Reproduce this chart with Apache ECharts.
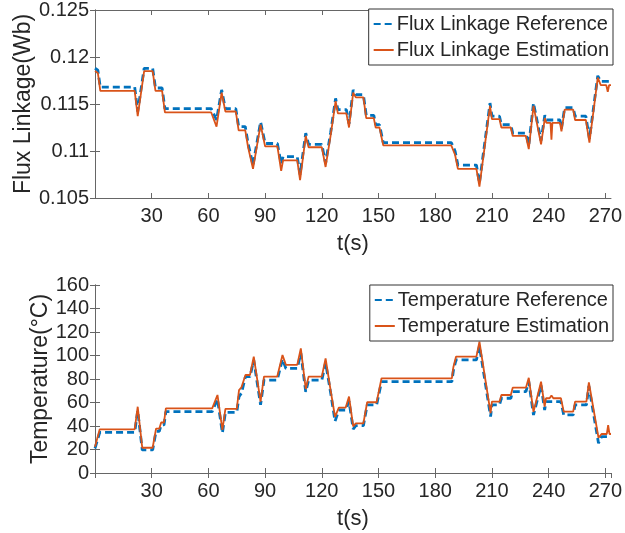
<!DOCTYPE html>
<html>
<head>
<meta charset="utf-8">
<script src="https://cdn.jsdelivr.net/npm/echarts@6/dist/echarts.min.js"></script>
<style>html,body{margin:0;padding:0;background:#fff}#c{width:625px;height:533px}</style>
</head>
<body>
<div id="c"></div>
<script>
// ---- data ----
var fluxRefT = [0,1.5,2.8,21,22.6,26,30.5,32,35.5,37,61.5,64.3,67,69,74.5,76,79.5,81,83.6,87.6,90,96.5,98.5,99.5,107,108.5,111.5,113,120,122,124.7,127.3,128.5,133,134.4,136.6,138,142,143.5,147.5,148.5,150.5,152.5,188.5,190.5,192,201.8,203.4,209,210,214,215,220,221,228,229.5,232,236,238,238.8,246,246.8,248.5,253,254,259.7,261.6,266,267.6,273];
var fluxRefV = [0.1188,0.1186,0.1168,0.1168,0.1142,0.1188,0.1188,0.1167,0.1167,0.1145,0.1145,0.1133,0.1165,0.1145,0.1145,0.1126,0.1126,0.1108,0.1085,0.1131,0.1108,0.1108,0.1086,0.1094,0.1094,0.1075,0.1119,0.1107,0.1107,0.1087,0.1120,0.1156,0.1144,0.1144,0.1129,0.1165,0.1160,0.1160,0.1138,0.1138,0.1128,0.1128,0.1109,0.1109,0.1100,0.1085,0.1085,0.1066,0.1151,0.1137,0.1137,0.1128,0.1128,0.1119,0.1119,0.1106,0.1151,0.1111,0.1138,0.1133,0.1133,0.1124,0.1146,0.1146,0.1137,0.1137,0.1113,0.1180,0.1174,0.1174];
var fluxEstT = [0,1.5,2.8,21,22.6,26,30.5,32,35.5,37,61.5,64.3,67,69,74.5,76,79.5,81,83.6,87.6,90,96.5,98.5,99.5,107,108.5,111.5,113,120,122,124.7,127.3,128.5,133,134.4,136.6,138,142,143.5,147.5,148.5,150.5,152.5,188.5,190.5,192,201.8,203.4,209,210,214,215,220,221,228,229.5,232,236,238,238.8,241,241.5,242,246,246.8,248.5,253,254,259.7,261.6,266,267.6,270.5,271.3,272,273];
var fluxEstV = [0.1185,0.1183,0.1164,0.1164,0.1137,0.1185,0.1185,0.1164,0.1164,0.1141,0.1141,0.1126,0.1162,0.1142,0.1142,0.1122,0.1122,0.1104,0.1081,0.1128,0.1105,0.1105,0.1079,0.1090,0.1090,0.1069,0.1116,0.1104,0.1104,0.1083,0.1117,0.1153,0.1140,0.1140,0.1125,0.1162,0.1157,0.1157,0.1135,0.1135,0.1125,0.1125,0.1106,0.1106,0.1096,0.1081,0.1081,0.1062,0.1148,0.1134,0.1134,0.1125,0.1125,0.1116,0.1116,0.1102,0.1148,0.1107,0.1135,0.1130,0.1130,0.1112,0.1130,0.1130,0.1121,0.1144,0.1144,0.1133,0.1133,0.1109,0.1178,0.1170,0.1170,0.1163,0.1170,0.1170];

var tempRefT = [0,1,2.5,21,22.6,25,30.5,32.3,34,35,36.5,37.5,62,64.8,67.4,69,75,76.2,77.5,79.6,82,84,87.6,89.4,96.4,99.2,101,107,108.9,111.5,113,120,122,124.7,127,129,132.6,134.4,136.6,138,142,144,149,151.6,188.8,189.6,191,201.8,203.4,209.3,210,214,215,220,221,228,229.5,232,236,237.9,238.6,246.5,248,253,254,260,261.3,266.4,268,273];
var tempRefV = [21,21,34.6,34.6,53,19.6,19.6,35.5,35.5,40.9,40.9,52.2,52.2,63,34,51.6,51.6,65,68,82,82,96,58,79,79,97,89,89,102,69,79,79,94,68,44,53.6,53.6,61,37.4,40.3,40.3,57.9,57.9,77.7,77.7,87,96.2,96.2,108,48,57.9,57.9,63.6,63.6,69.2,69.2,78,49.4,74.5,53.5,60.7,60.7,49.4,49.4,57.9,57.9,74,25.3,30.9,30.9];
var tempEstT = [0,1,2.5,21,22.6,25,30.5,32.3,34,35,36.5,37.5,62,64.8,67.4,69,75,76.2,77.5,79.6,82,84,87.6,89.4,96.4,99.2,101,107,108.9,111.5,113,120,122,124.7,127,129,132.6,134.4,136.6,138,142,144,149,151.6,188.8,189.6,191,201.8,203.4,209.3,210,214,215,220,221,228,229.5,232,236,237.9,238.6,240.5,241.5,242.5,246.5,248,253,254,260,261.3,266.4,268,270.8,271.5,272.2,273];
var tempEstV = [22.4,22.4,37.2,37.2,56.4,21.5,21.5,37.7,37.7,43,43,55,55,66.4,36.6,54.5,54.5,70.6,73,83.4,83.4,99,60.7,82,82,100.4,92,92,106,71.5,82,82,97.6,70,47.8,55.6,55.6,65,39.7,42.3,42.3,60.2,60.2,80.6,80.6,90,99,99,111.7,51,60.7,60.7,66.4,66.4,72.6,72.6,81,52,77.7,56.4,63.6,63.6,66,63.6,63.6,52.2,52.2,60.7,60.7,77.2,30,33.2,33.2,40.8,33.2,33.2];

var xTickInterval = 30;
var xMin = 0, xMax = 273;
var fluxMin = 0.105, fluxMax = 0.125, fluxStep = 0.005;
var tempMin = 0, tempMax = 160, tempStep = 20;

function pairs(t, v) { return t.map(function (x, i) { return [x, v[i]]; }); }

var BLUE = '#0072BD', ORANGE = '#D95319', AX = '#666', TXT = '#262626';
var FONT = 'Liberation Sans, Arial, sans-serif';

function xAx(grid) {
  return {
    type: 'value', gridIndex: grid, min: xMin, max: xMax, interval: xTickInterval,
    name: 't(s)', nameLocation: 'middle', nameGap: 35,
    nameTextStyle: { fontSize: 22, color: TXT, fontFamily: FONT },
    axisLine: { lineStyle: { color: AX, width: 1 } },
    axisTick: { inside: true, length: 5, lineStyle: { color: AX } },
    axisLabel: { fontSize: 20, color: TXT, fontFamily: FONT, margin: 8, showMinLabel: false, showMaxLabel: false,
      formatter: function (v) { return v === 0 ? '' : String(v); } },
    splitLine: { show: false }
  };
}
function xTop(grid) {
  return {
    type: 'value', gridIndex: grid, position: 'top', min: xMin, max: xMax, interval: xTickInterval,
    axisLine: { lineStyle: { color: AX, width: 1 } },
    axisTick: { inside: true, length: 5, lineStyle: { color: AX } },
    axisLabel: { show: false }, splitLine: { show: false }
  };
}
function yAx(grid, name, mn, mx, step, gap, fmt) {
  return {
    type: 'value', gridIndex: grid, min: mn, max: mx, interval: step,
    name: name, nameLocation: 'middle', nameGap: gap, nameMoveOverlap: false,
    nameTextStyle: { fontSize: 23, color: TXT, fontFamily: FONT },
    axisLine: { show: true, lineStyle: { color: AX, width: 1 } },
    axisTick: { show: true, inside: true, length: 5, lineStyle: { color: AX } },
    axisLabel: { fontSize: 20, color: TXT, fontFamily: FONT, margin: 6, formatter: fmt },
    splitLine: { show: false }
  };
}
function yRight(grid, mn, mx, step) {
  return {
    type: 'value', gridIndex: grid, position: 'right', min: mn, max: mx, interval: step,
    axisLine: { show: true, lineStyle: { color: AX, width: 1 } },
    axisTick: { show: true, inside: true, length: 5, lineStyle: { color: AX } },
    axisLabel: { show: false }, splitLine: { show: false }
  };
}
function legendAt(top, names) {
  return {
    orient: 'vertical', right: 12, top: top, padding: [5, 4, 5, 4], itemGap: 6, itemWidth: 20, itemHeight: 14,
    borderColor: '#333', borderWidth: 1, backgroundColor: '#fff',
    itemStyle: { color: 'rgba(0,0,0,0)', borderWidth: 0, opacity: 0 },
    textStyle: { fontSize: 20, color: TXT, fontFamily: FONT, padding: [0, 0, 0, -2] },
    data: names
  };
}

var chart = echarts.init(document.getElementById('c'), null, { renderer: 'canvas' });
chart.setOption({
  animation: false,
  backgroundColor: '#fff',
  grid: [
    { left: 95, top: 10, width: 518, height: 188 },
    { left: 95, top: 285, width: 518, height: 188 }
  ],
  xAxis: [xAx(0), xTop(0), xAx(1), xTop(1)],
  yAxis: [
    yAx(0, 'Flux Linkage(Wb)', fluxMin, fluxMax, fluxStep, 60, function (v) { return String(+v.toFixed(3)); }),
    yRight(0, fluxMin, fluxMax, fluxStep),
    yAx(1, 'Temperature(°C)', tempMin, tempMax, tempStep, 43, function (v) { return String(Math.round(v)); }),
    yRight(1, tempMin, tempMax, tempStep)
  ],
  legend: [
    legendAt(9, ['Flux Linkage Reference', 'Flux Linkage Estimation']),
    legendAt(285, ['Temperature Reference', 'Temperature Estimation'])
  ],
  series: [
    { name: 'Flux Linkage Reference', type: 'line', xAxisIndex: 0, yAxisIndex: 0, showSymbol: false, symbol: 'none',
      data: pairs(fluxRefT, fluxRefV), lineStyle: { color: BLUE, width: 2.8, type: [7, 4] }, itemStyle: { color: BLUE }, z: 2 },
    { name: 'Flux Linkage Estimation', type: 'line', xAxisIndex: 0, yAxisIndex: 0, showSymbol: false, symbol: 'none',
      data: pairs(fluxEstT, fluxEstV), lineStyle: { color: ORANGE, width: 1.8 }, itemStyle: { color: ORANGE }, z: 3 },
    { name: 'Temperature Reference', type: 'line', xAxisIndex: 2, yAxisIndex: 2, showSymbol: false, symbol: 'none',
      data: pairs(tempRefT, tempRefV), lineStyle: { color: BLUE, width: 2.8, type: [7, 4] }, itemStyle: { color: BLUE }, z: 2 },
    { name: 'Temperature Estimation', type: 'line', xAxisIndex: 2, yAxisIndex: 2, showSymbol: false, symbol: 'none',
      data: pairs(tempEstT, tempEstV), lineStyle: { color: ORANGE, width: 1.8 }, itemStyle: { color: ORANGE }, z: 3 }
  ]
});
</script>
</body>
</html>
